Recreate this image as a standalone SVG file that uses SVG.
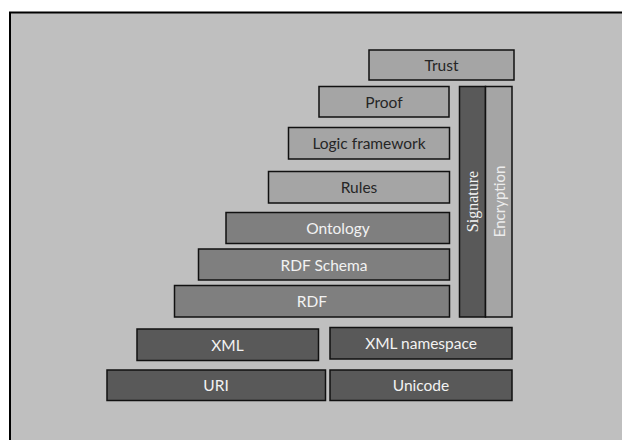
<svg xmlns="http://www.w3.org/2000/svg" width="622" height="440" viewBox="0 0 622 440">
  <style>
    .box { stroke: #111; stroke-width: 1.5; }
    .light { fill: #a5a5a5; }
    .mid { fill: #7f7f7f; }
    .dark { fill: #595959; }
    .lbl { font-family: Lato, "Liberation Sans", sans-serif; font-size: 15.5px; text-anchor: middle; dominant-baseline: central; }
    .tdark { fill: #262626; }
    .tlight { fill: #f2f2f2; }
    .vserif { font-family: "Liberation Serif", serif; font-size: 16px; text-anchor: middle; dominant-baseline: central; fill: #f2f2f2; }
    .vsans { font-family: Lato, "Liberation Sans", sans-serif; font-size: 15px; text-anchor: middle; dominant-baseline: central; fill: #ececec; }
  </style>
  <rect x="0" y="0" width="622" height="440" fill="#ffffff"/>
  <rect x="10" y="12.5" width="620" height="440" fill="#bfbfbf" stroke="#000" stroke-width="2"/>

  <g id="trust"><rect class="box light" x="369" y="50" width="145" height="30"/><text class="lbl tdark" x="441.5" y="65">Trust</text></g>
  <g id="proof"><rect class="box light" x="319" y="86.5" width="130" height="30.5"/><text class="lbl tdark" x="384" y="101.5">Proof</text></g>
  <g id="logic"><rect class="box light" x="288.5" y="127.5" width="161" height="31.5"/><text class="lbl tdark" x="369" y="143">Logic framework</text></g>
  <g id="rules"><rect class="box light" x="268.5" y="171.5" width="181" height="31.5"/><text class="lbl tdark" x="359" y="187">Rules</text></g>
  <g id="ontology"><rect class="box mid" x="226" y="212.5" width="223.5" height="31"/><text class="lbl tlight" x="338" y="228">Ontology</text></g>
  <g id="rdfs"><rect class="box mid" x="198.5" y="249" width="251" height="31"/><text class="lbl tlight" x="324" y="265">RDF Schema</text></g>
  <g id="rdf"><rect class="box mid" x="174.5" y="285.5" width="275" height="31.5"/><text class="lbl tlight" x="312" y="301">RDF</text></g>
  <g id="xml"><rect class="box dark" x="137" y="329" width="181.5" height="31.5"/><text class="lbl tlight" x="227.5" y="345">XML</text></g>
  <g id="xmlns"><rect class="box dark" x="330" y="327.5" width="182" height="31.5"/><text class="lbl tlight" x="421" y="343">XML namespace</text></g>
  <g id="uri"><rect class="box dark" x="107" y="370" width="218.5" height="30.5"/><text class="lbl tlight" x="216" y="385">URI</text></g>
  <g id="unicode"><rect class="box dark" x="330" y="370" width="182" height="30.5"/><text class="lbl tlight" x="421" y="385">Unicode</text></g>
  <g id="signature"><rect class="box dark" x="459.5" y="86.5" width="26" height="230.5"/><text class="vserif" transform="translate(472.5 201.5) rotate(-90)">Signature</text></g>
  <g id="encryption"><rect class="box light" x="485.5" y="86.5" width="26.5" height="230.5"/><text class="vsans" transform="translate(498.5 201.5) rotate(-90)">Encryption</text></g>
  <g id="connectors"/>
</svg>
